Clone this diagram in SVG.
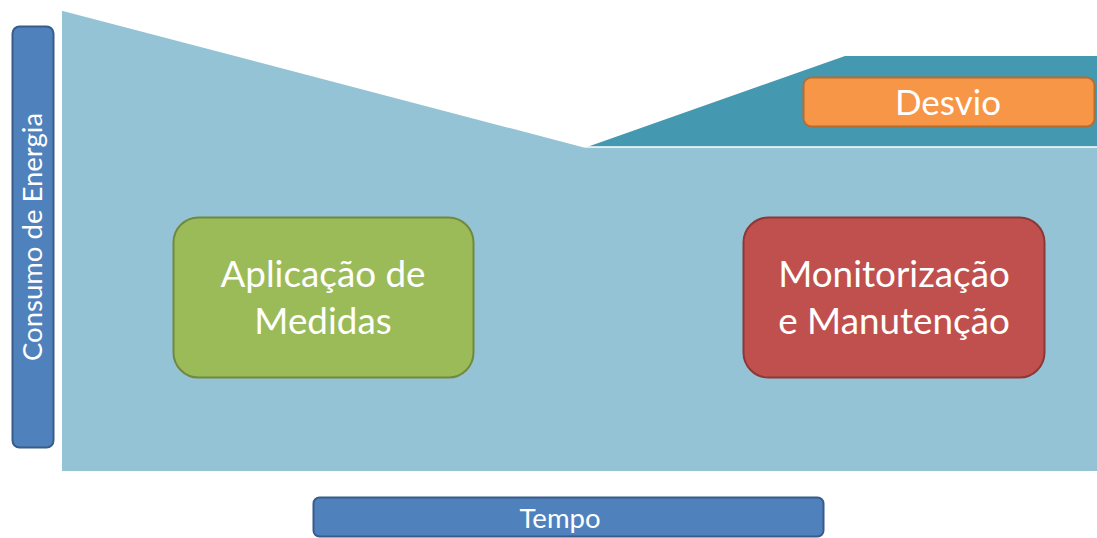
<svg xmlns="http://www.w3.org/2000/svg" width="1097" height="538" viewBox="0 0 1097 538">
<style>
.lbl{font-family:"Lato","Open Sans",sans-serif;fill:#ffffff;text-anchor:middle}
</style>
<rect width="1097" height="538" fill="#ffffff"/>
<g id="areas">
<polygon points="62,10 585,147 1097,147 1097,471 62,471" fill="#93c3d4"/>
<polygon points="587,147 845,56 1097,56 1097,147" fill="#4499b0"/>
<line x1="62" y1="10" x2="585" y2="147" stroke="#ffffff" stroke-width="1.5"/>
<line x1="585" y1="147" x2="1097" y2="147" stroke="#ffffff" stroke-width="1.5"/>
</g>
<g id="yaxis">
<rect x="12.5" y="26.5" width="41" height="421" rx="7" fill="#4f81bd" stroke="#385d8a" stroke-width="2"/>
<text class="lbl" font-size="27.5" transform="translate(42,237) rotate(-90)">Consumo de Energia</text>
</g>
<g id="xaxis">
<rect x="313.5" y="497.5" width="510" height="39" rx="6" fill="#4f81bd" stroke="#385d8a" stroke-width="2"/>
<text class="lbl" font-size="27.5" x="560" y="528">Tempo</text>
</g>
<g id="desvio">
<rect x="803.5" y="77.5" width="291" height="49" rx="8" fill="#f79646" stroke="#b66d31" stroke-width="2"/>
<text class="lbl" font-size="35" x="948" y="115">Desvio</text>
</g>
<g id="aplicacao">
<rect x="173.5" y="217.5" width="300" height="160" rx="25" fill="#9bbb59" stroke="#71893f" stroke-width="2"/>
<text class="lbl" font-size="36.8" x="323" y="287">Aplicação de</text>
<text class="lbl" font-size="36.8" x="323" y="334">Medidas</text>
</g>
<g id="monitorizacao">
<rect x="743.5" y="217.5" width="301" height="160" rx="25" fill="#c0504d" stroke="#8c3836" stroke-width="2"/>
<text class="lbl" font-size="36.8" x="894" y="287">Monitorização</text>
<text class="lbl" font-size="36.8" x="894" y="334">e Manutenção</text>
</g>
<g id="connectors"></g>
</svg>
